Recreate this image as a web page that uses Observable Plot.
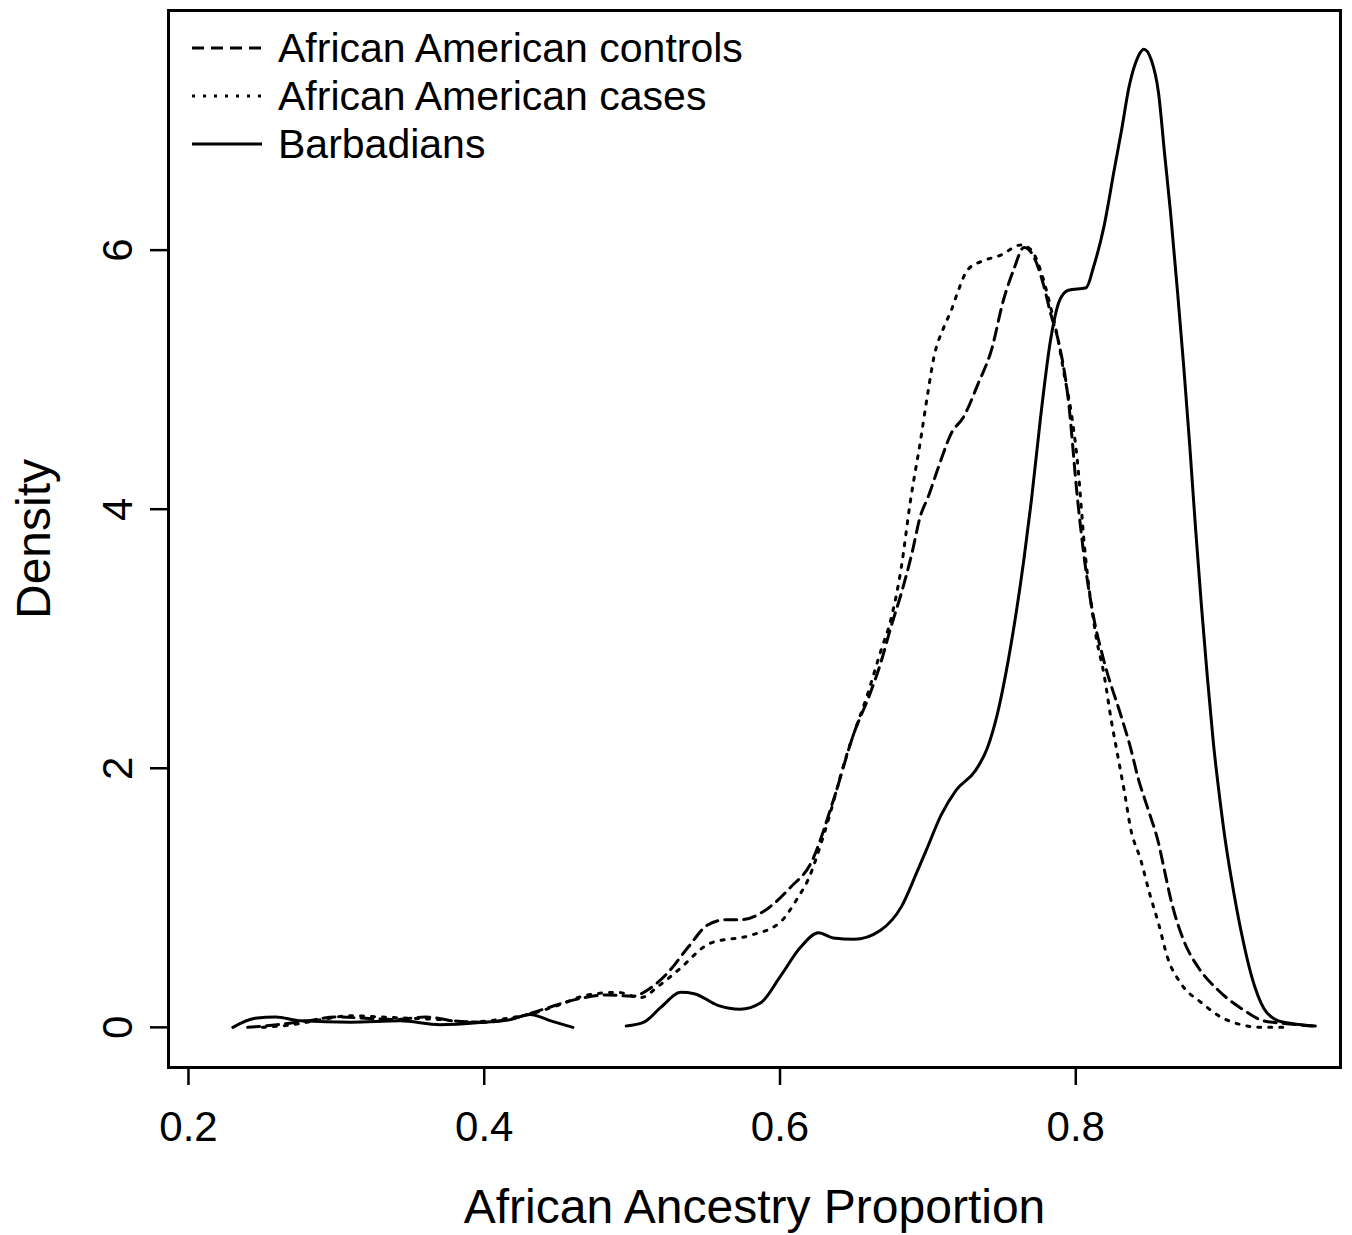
<!DOCTYPE html>
<html><head><meta charset="utf-8">
<script src="https://cdn.jsdelivr.net/npm/d3@7"></script>
<script src="https://cdn.jsdelivr.net/npm/@observablehq/plot@0.6"></script>
<style>
body{margin:0;background:#fff;}
#wrap{position:relative;width:1352px;height:1235px;}
#legend{position:absolute;left:192px;top:24px;font-family:"Liberation Sans",Arial,Helvetica,sans-serif;font-size:41px;color:#000;line-height:48px;}
.row{display:flex;align-items:center;height:48px;}
.row svg{width:70px;height:20px;margin-right:16px;flex:none;}
</style></head><body><div id="wrap"></div>
<script>
// ---- data ----
const seriesNames = ["African American controls", "African American cases", "Barbadians"];
const xTicks = [0.2, 0.4, 0.6, 0.8];
const yTicks = [0, 2, 4, 6];
const xTitle = "African Ancestry Proportion";
const yTitle = "Density";

const ctrlX = [0.24,0.26,0.28,0.30,0.32,0.34,0.36,0.38,0.40,0.42,0.44,0.46,0.483,0.50,0.512,0.524,0.538,0.551,0.563,0.573,0.592,0.607,0.621,0.636,0.650,0.661,0.668,0.675,0.682,0.689,0.695,0.700,0.707,0.716,0.724,0.734,0.743,0.751,0.758,0.765,0.770,0.778,0.783,0.788,0.795,0.801,0.806,0.812,0.819,0.831,0.837,0.842,0.849,0.856,0.860,0.864,0.873,0.883,0.896,0.914,0.927,0.941,0.96];
const ctrlY = [0,0.02,0.05,0.08,0.07,0.06,0.08,0.05,0.04,0.07,0.14,0.21,0.25,0.24,0.30,0.42,0.62,0.79,0.83,0.83,0.92,1.08,1.27,1.75,2.27,2.58,2.81,3.09,3.35,3.65,3.95,4.09,4.32,4.59,4.71,4.97,5.23,5.61,5.85,6.02,5.98,5.74,5.51,5.31,4.84,4.10,3.60,3.17,2.83,2.39,2.16,1.93,1.68,1.42,1.21,1.00,0.67,0.46,0.29,0.13,0.05,0.03,0.01];

const caseX = [0.25,0.27,0.29,0.31,0.33,0.35,0.37,0.39,0.41,0.43,0.45,0.47,0.49,0.506,0.518,0.531,0.553,0.580,0.600,0.612,0.619,0.630,0.645,0.660,0.668,0.675,0.682,0.688,0.695,0.700,0.704,0.711,0.716,0.720,0.727,0.738,0.749,0.763,0.770,0.776,0.783,0.788,0.792,0.797,0.801,0.806,0.814,0.819,0.824,0.829,0.833,0.837,0.844,0.850,0.856,0.862,0.871,0.885,0.898,0.912,0.925,0.94];
const caseY = [0,0.02,0.06,0.09,0.08,0.07,0.06,0.04,0.06,0.10,0.17,0.25,0.27,0.23,0.32,0.44,0.65,0.71,0.81,1.00,1.14,1.50,2.10,2.60,2.90,3.15,3.55,4.05,4.53,4.90,5.17,5.41,5.54,5.67,5.85,5.92,5.96,6.04,6.00,5.85,5.56,5.31,5.05,4.74,4.38,3.70,3.00,2.73,2.37,2.06,1.81,1.54,1.29,1.03,0.80,0.54,0.34,0.19,0.08,0.02,0,0];

const barbX = [0.230,0.245,0.259,0.276,0.31,0.343,0.37,0.40,0.418,0.431,0.445,0.46,0.478,0.496,0.508,0.519,0.533,0.542,0.558,0.573,0.587,0.600,0.614,0.626,0.636,0.650,0.668,0.682,0.693,0.699,0.709,0.719,0.732,0.740,0.747,0.753,0.759,0.765,0.770,0.776,0.783,0.789,0.795,0.807,0.812,0.819,0.826,0.831,0.836,0.842,0.846,0.851,0.856,0.860,0.864,0.869,0.873,0.877,0.881,0.885,0.889,0.893,0.897,0.901,0.907,0.912,0.919,0.927,0.937,0.946,0.962];
const barbY = [0,0.07,0.08,0.05,0.04,0.05,0.02,0.04,0.06,0.10,0.05,0,null,0.01,0.04,0.15,0.27,0.26,0.17,0.14,0.19,0.39,0.62,0.73,0.69,0.68,0.75,0.93,1.21,1.37,1.64,1.83,1.98,2.15,2.42,2.75,3.15,3.62,4.07,4.69,5.31,5.61,5.69,5.71,5.87,6.18,6.62,6.93,7.26,7.49,7.55,7.47,7.21,6.75,6.30,5.65,5.10,4.50,3.85,3.25,2.70,2.20,1.80,1.45,1.03,0.73,0.39,0.15,0.05,0.03,0.01];

const dashes = ["12,7", "3,8", null];

const toRows = (xs, ys) => xs.map((x, i) => ({x, y: ys[i] == null ? NaN : ys[i]}));
const ctrl = toRows(ctrlX, ctrlY);
const cases = toRows(caseX, caseY);
const barb = toRows(barbX, barbY);

const font = '"Liberation Sans", Arial, Helvetica, sans-serif';

const chart = Plot.plot({
  width: 1352, height: 1235,
  marginLeft: 168, marginRight: 12, marginTop: 10, marginBottom: 168,
  x: {domain: [0.1865, 0.979]},
  y: {domain: [-0.31, 7.85]},
  style: {fontFamily: font, fontSize: "42px", color: "black", background: "white"},
  marks: [
    Plot.axisX({ticks: xTicks, tickSize: 18, tickPadding: 26, fontSize: 42, strokeWidth: 2.5, tickFormat: d => d.toFixed(1), label: null}),
    Plot.axisY({ticks: yTicks, tickSize: 18, strokeWidth: 2.5, tickFormat: () => "", label: null}),
    Plot.text(yTicks, {y: d => d, text: d => String(d), frameAnchor: "left", textAnchor: "middle", dx: -50, rotate: -90, fontSize: 42}),
    Plot.text([xTitle], {text: d => d, frameAnchor: "bottom", textAnchor: "middle", lineAnchor: "top", dy: 121, fontSize: 48}),
    Plot.text([yTitle], {text: d => d, frameAnchor: "left", textAnchor: "middle", dx: -134, rotate: -90, fontSize: 48}),
    Plot.line(ctrl, {x: "x", y: "y", stroke: "black", strokeWidth: 3, strokeDasharray: dashes[0], curve: "monotone-x"}),
    Plot.line(cases, {x: "x", y: "y", stroke: "black", strokeWidth: 3, strokeDasharray: dashes[1], curve: "monotone-x"}),
    Plot.line(barb, {x: "x", y: "y", stroke: "black", strokeWidth: 3, curve: "monotone-x"}),
    Plot.frame({stroke: "black", strokeWidth: 3})
  ]
});

const wrap = document.getElementById("wrap");
wrap.appendChild(chart);

// legend overlay
const legend = document.createElement("div");
legend.id = "legend";
seriesNames.forEach((name, i) => {
  const row = document.createElement("div");
  row.className = "row";
  const dash = dashes[i] ? ` stroke-dasharray="${dashes[i]}"` : "";
  row.innerHTML = `<svg viewBox="0 0 70 20"><line x1="0" y1="10" x2="70" y2="10" stroke="black" stroke-width="3"${dash}/></svg><span>${name}</span>`;
  legend.appendChild(row);
});
wrap.appendChild(legend);
</script>
</body></html>
